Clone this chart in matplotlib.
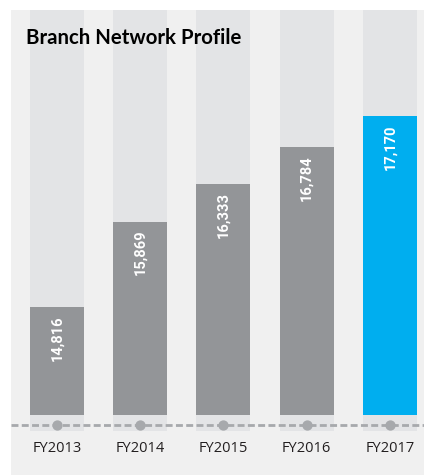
import matplotlib.pyplot as plt
import matplotlib.transforms as mtransforms

# data
years = ["FY2013", "FY2014", "FY2015", "FY2016", "FY2017"]
branches = [14816, 15869, 16333, 16784, 17170]
bar_colors = ["#939598", "#939598", "#939598", "#939598", "#00aeef"]

W, H = 424, 475
fig = plt.figure(figsize=(W / 100, H / 100), dpi=100)
fig.patch.set_facecolor("white")

# panel in pixel coordinates: x 11..424, y 10..475 (from top)
ax = fig.add_axes([11 / W, 0, 413 / W, 465 / H])
ax.set_facecolor("#f0f0f0")
for s in ax.spines.values():
    s.set_visible(False)
ax.set_xticks([])
ax.set_yticks([])

base = 13491
upp = 12.31  # value units per pixel
ax.set_ylim(base - 60 * upp, base + 405 * upp)
ax.set_xlim(-0.553, 4.41)
x = list(range(len(years)))
width = 0.65

# light background columns
col_bottom = base - 16 * upp
ax.bar(x, [base + 405 * upp - col_bottom] * len(x), bottom=col_bottom,
       width=width, color="#e3e4e6", zorder=1)
# value bars
heights = [v - base for v in branches]
ax.bar(x, heights, bottom=base, width=width, color=bar_colors, zorder=2)

# dashed baseline with dots
line_y = base - 10 * upp
ax.axhline(line_y, color="#a7a9ac", lw=2, ls=(0, (2.5, 1.2)), zorder=3)
ax.scatter(x, [line_y] * len(x), s=55, color="#a7a9ac", zorder=4, linewidths=0)

# value labels
for xi, v in zip(x, branches):
    ax.text(xi, v - 8 * upp, f"{v:,}", rotation=90, ha="center", va="top",
            color="white", fontsize=10.5, fontweight="bold",
            family=["Roboto", "DejaVu Sans"], zorder=5)

# category labels
trans = mtransforms.blended_transform_factory(ax.transData, fig.transFigure)
for xi, lab in zip(x, years):
    ax.text(xi, 1 - 448 / H, lab, transform=trans, ha="center", va="center",
            fontsize=10.5, color="#231f20", family=["Open Sans", "DejaVu Sans"])

fig.text(26 / W, 1 - 38 / H, "Branch Network Profile", ha="left", va="center",
         fontsize=14.7, fontweight="bold", color="#000000",
         family=["Lato", "DejaVu Sans"])

fig.savefig("out.png", dpi=100)
